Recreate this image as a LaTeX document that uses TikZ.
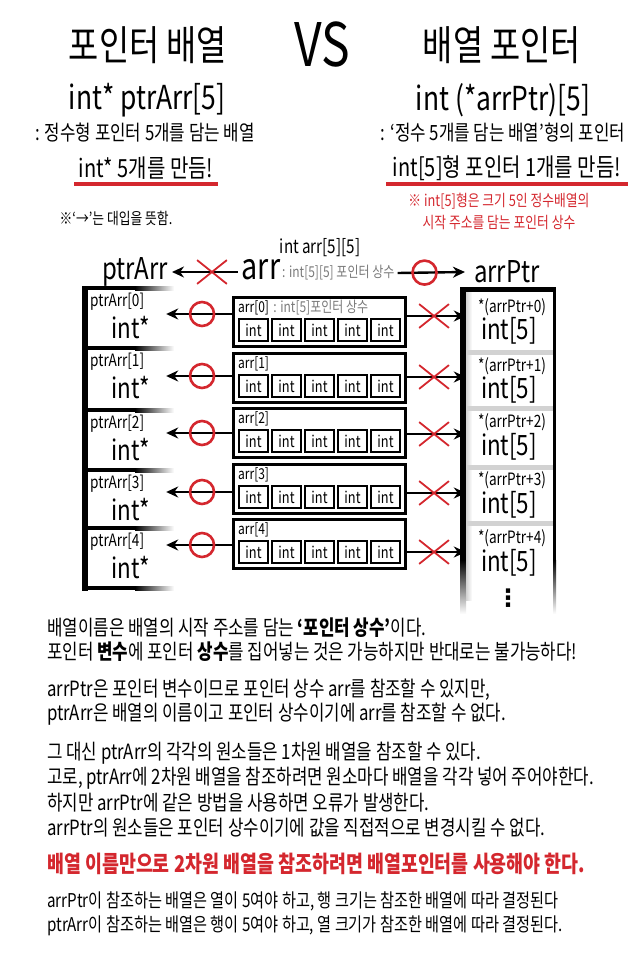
\documentclass[tikz,border=0pt]{standalone}
\usepackage{fontspec}
\setmainfont{Noto Sans CJK KR}[FakeStretch=0.8]
\newfontfamily\symfont{DejaVu Sans}
\usetikzlibrary{arrows.meta,calc,positioning,shapes.misc}
\definecolor{Mark}{HTML}{D4272E}
\definecolor{Note}{HTML}{7A7A7A}
\definecolor{Sep}{HTML}{D2D2D2}
\newcommand{\fsz}[1]{\fontsize{#1}{#1}\selectfont}

\begin{document}
\begin{tikzpicture}[x=1pt,y=-1pt,
    txt/.style={inner sep=0pt},
    ptr/.style={-{Stealth[length=12pt,width=11pt]},line width=2.4pt},
    okmark/.style={circle,draw=Mark,line width=2.6pt,minimum size=24pt,inner sep=0pt},
    nomark/.style={cross out,draw=Mark,line width=1.8pt,minimum width=28pt,minimum height=22pt,inner sep=0pt},
    blk/.style={draw,line width=3pt,minimum width=172pt,minimum height=49pt,inner sep=0pt},
    cell/.style={draw,line width=2pt,minimum width=28.5pt,minimum height=22.5pt,inner sep=0pt,font=\fsz{16}},
    prow/.style={minimum width=81pt,minimum height=58pt,inner sep=0pt},
    arow/.style={minimum width=89pt,minimum height=56pt,inner sep=0pt},
    uline/.style={Mark,line width=3pt}]
  \useasboundingbox (0,0) rectangle (640,960);

  \node[txt,font=\fsz{41}] (ttlL) at (148,45) {포인터 배열};
  \node[txt,font=\fsz{60}] (vs) at (322,45) {VS};
  \node[txt,font=\fsz{41}] (ttlR) at (502,45) {배열 포인터};
  \node[txt,font=\fsz{33}] (declL) at (147,100) {int* ptrArr[5]};
  \node[txt,font=\fsz{33}] (declR) at (503,100) {int (*arrPtr)[5]};
  \node[txt,font=\fsz{21}] (descL) at (145,133) {: 정수형 포인터 5개를 담는 배열};
  \node[txt,font=\fsz{21}] (descR) at (503,133) {: ‘정수 5개를 담는 배열’형의 포인터};
  \node[txt,font=\fsz{25}] (makeL) at (146,168) {int* 5개를 만듬!};
  \node[txt,font=\fsz{25}] (makeR) at (507,168) {int[5]형 포인터 1개를 만듬!};
  \draw[uline] (74,184) -- (218,184);
  \draw[uline] (386,184) -- (628,184);
  \node[txt,font=\fsz{16}] (hint) at (116,218) {※‘→’는 대입을 뜻함.};
  \node[txt,text=Mark,align=center,font=\fontsize{16}{22}\selectfont] (remark) at (499,211)
    {※ int[5]형은 크기 5인 정수배열의\\시작 주소를 담는 포인터 상수};

  % top row
  \node[txt,font=\fsz{19}] (decl2) at (320,248) {int arr[5][5]};
  \node[inner sep=4pt,font=\fsz{30}] (pArr) at (135,272) {ptrArr};
  \node[inner sep=4pt,font=\fsz{36}] (arr) at (261,270) {arr};
  \node[inner sep=3pt,font=\fsz{15},text=Note,anchor=west] (arrT) at (279,273) {: int[5][5] 포인터 상수};
  \node[inner sep=9pt,font=\fsz{30}] (aPtr) at (507,272) {arrPtr};
  \draw[ptr] (arr.west |- pArr) -- node[nomark,pos=0.39]{} (pArr.east);
  \draw[ptr] (arrT.east) -- node[okmark,pos=0.4]{} (aPtr.west);

  % ptrArr
  \fill (82,286) rectangle (88,591);
  \foreach \y in {288,348,410,470,528,588}{
    \fill (85,\y-2) rectangle (135,\y+2);
    \shade[left color=black,right color=white] (135,\y-2) rectangle (174,\y+2);
  }
  \foreach \i/\top in {0/288,1/348,2/410,3/470,4/528}{
    \node[prow] (pa\i) at (125.5,\top+30) {};
    \node[txt,font=\fsz{17},anchor=west] (paL\i) at (90,\top+14) {ptrArr[\i]};
    \node[txt,font=\fsz{28}] (paV\i) at (131,\top+40) {int*};
  }

  % arrPtr
  \fill (460,287) rectangle (556,292);
  \fill (460,287) rectangle (466,560);
  \shade[top color=black,bottom color=white] (460,560) rectangle (466,614);
  \fill (553,287) rectangle (556,560);
  \shade[top color=black,bottom color=white] (553,560) rectangle (556,614);
  \shade[left color=Sep,right color=white] (466,292) rectangle (472,600);
  \foreach \y in {352,408,467,523}
    \fill[Sep] (466,\y-2.5) rectangle (553,\y+2.5);
  \foreach \i/\top/\ly/\vy in {0/289/307/331,1/352/366/390,2/408/422/447,3/467/480/505,4/523/538/563}{
    \node[arow] (ap\i) at (510.5,\top+28) {};
    \node[txt,font=\fsz{17}] (apL\i) at (512,\ly) {*(arrPtr+\i)};
    \node[txt,font=\fsz{28}] (apV\i) at (509,\vy) {int[5]};
  }
  \node[txt,font=\fsz{24}\symfont\bfseries] (more) at (508,598) {⋮};

  % arr
  \foreach \i/\top in {0/296,1/352,2/407,3/463,4/518}{
    \node[blk] (ar\i) at (319.5,\top+26) {};
    \node[txt,font=\fsz{15},anchor=west] (arL\i) at (238,\top+12) {arr[\i]};
    \foreach \j in {0,...,4}
      \node[cell] (c\i\j) at (253.5+33*\j,\top+34) {int};
  }
  \node[txt,font=\fsz{15},text=Note,right=4pt of arL0] (arT0) {: int[5]포인터 상수};

  \foreach \i/\ly/\ry in {0/314/316,1/376/377,2/433/434,3/492/493,4/545/552}{
    \coordinate (lt\i) at (232,\ly);
    \coordinate (rt\i) at (407,\ry);
    \draw[ptr] (lt\i) -- node[okmark,pos=0.455]{} (pa\i.east |- lt\i);
    \draw[ptr] (rt\i) -- node[nomark,pos=0.46]{} (ap\i.west |- rt\i);
  }

  % notes
  \node[txt,anchor=west,font=\fsz{21}] (ln1) at (47,628) {배열이름은 배열의 시작 주소를 담는 {\bfseries ‘포인터 상수’}이다.};
  \node[txt,anchor=west,font=\fsz{21}] (ln2) at (47,652) {포인터 {\bfseries 변수}에 포인터 {\bfseries 상수}를 집어넣는 것은 가능하지만 반대로는 불가능하다!};
  \node[txt,anchor=west,font=\fsz{21}] (ln3) at (47,690) {arrPtr은 포인터 변수이므로 포인터 상수 arr를 참조할 수 있지만,};
  \node[txt,anchor=west,font=\fsz{21}] (ln4) at (47,714) {ptrArr은 배열의 이름이고 포인터 상수이기에 arr를 참조할 수 없다.};
  \node[txt,anchor=west,font=\fsz{21}] (ln5) at (47,753) {그 대신 ptrArr의 각각의 원소들은 1차원 배열을 참조할 수 있다.};
  \node[txt,anchor=west,font=\fsz{21}] (ln6) at (47,778) {고로, ptrArr에 2차원 배열을 참조하려면 원소마다 배열을 각각 넣어 주어야한다.};
  \node[txt,anchor=west,font=\fsz{21}] (ln7) at (47,803) {하지만 arrPtr에 같은 방법을 사용하면 오류가 발생한다.};
  \node[txt,anchor=west,font=\fsz{21}] (ln8) at (47,828) {arrPtr의 원소들은 포인터 상수이기에 값을 직접적으로 변경시킬 수 없다.};
  \node[txt,anchor=west,font=\fsz{23}\bfseries,text=Mark] (ln9) at (47,864) {배열 이름만으로 2차원 배열을 참조하려면 배열포인터를 사용해야 한다.};
  \node[txt,anchor=west,font=\fsz{19}] (ln10) at (47,901) {arrPtr이 참조하는 배열은 열이 5여야 하고, 행 크기는 참조한 배열에 따라 결정된다};
  \node[txt,anchor=west,font=\fsz{19}] (ln11) at (47,926) {ptrArr이 참조하는 배열은 행이 5여야 하고, 열 크기가 참조한 배열에 따라 결정된다.};
\end{tikzpicture}
\end{document}
